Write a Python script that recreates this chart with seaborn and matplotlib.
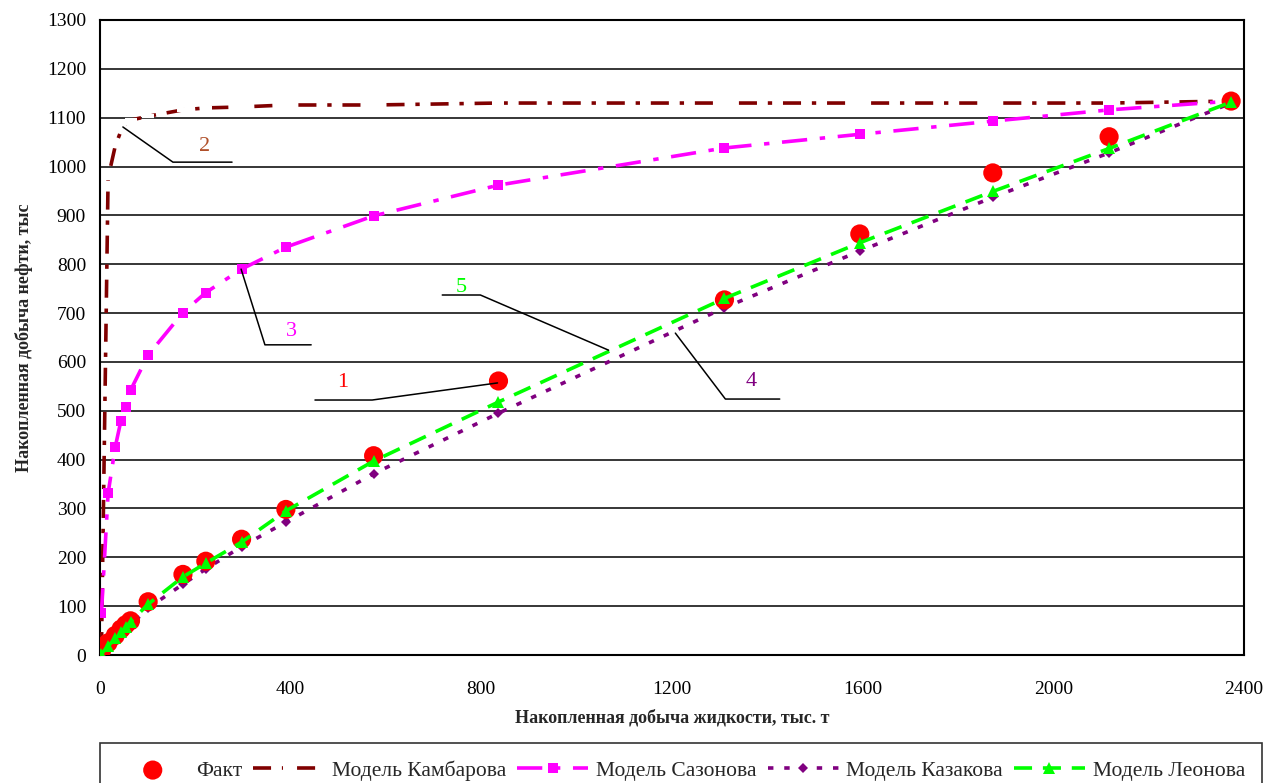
import matplotlib
matplotlib.use("Agg")
import matplotlib.pyplot as plt
import seaborn as sns
import pandas as pd

# ---- data ----
liquid = [3, 17, 32, 44, 54, 64, 101, 174, 222, 297, 390, 574, 836, 1310, 1594, 1873, 2117, 2373]
fact = [8, 25, 40, 53, 62, 70, 109, 165, 192, 237, 298, 408, 561, 727, 862, 987, 1061, 1134]
kambarov = [10, 977, 1042, 1073, 1089, 1095, 1103, 1116, 1120, 1122, 1126, 1126, 1130, 1130, 1130, 1130, 1130, 1134]
sazonov = [85, 331, 426, 480, 508, 542, 614, 701, 742, 790, 835, 899, 962, 1038, 1066, 1093, 1116, 1134]
kazakov = [0, 14, 29, 41, 51, 61, 96, 145, 176, 222, 272, 371, 495, 711, 827, 937, 1028, 1130]
leonov = [2, 18, 34, 47, 57, 68, 104, 160, 188, 231, 295, 397, 518, 730, 844, 949, 1037, 1132]

series_names = ["Факт", "Модель Камбарова", "Модель Сазонова", "Модель Казакова", "Модель Леонова"]
x_ticks = [0, 400, 800, 1200, 1600, 2000, 2400]
y_ticks = list(range(0, 1301, 100))
x_label = "Накопленная добыча жидкости, тыс. т"
y_label = "Накопленная добыча нефти, тыс"

df = pd.DataFrame({"liquid": liquid, "fact": fact, "kambarov": kambarov,
                   "sazonov": sazonov, "kazakov": kazakov, "leonov": leonov})

sns.set_theme(style="white")
plt.rcParams["font.family"] = ["Liberation Serif", "DejaVu Serif"]

fig = plt.figure(figsize=(12.67, 7.83), dpi=100)
ax = fig.add_axes([100 / 1267, 1 - 655 / 783, 1144 / 1267, 635 / 783])

for y in y_ticks:
    ax.axhline(y, color="black", lw=1.1, zorder=0)

sns.lineplot(data=df, x="liquid", y="kambarov", ax=ax, color="#800000", lw=2.6,
             linestyle=(0, (5, 3, 1.2, 3)), marker="_", markersize=9, markeredgewidth=3,
             label=series_names[1], errorbar=None, zorder=3)
sns.lineplot(data=df, x="liquid", y="sazonov", ax=ax, color="#FF00FF", lw=2.6,
             linestyle=(0, (7, 3.5, 1.5, 3.5)), marker="s", markersize=6.5, markeredgewidth=0,
             label=series_names[2], errorbar=None, zorder=3)
sns.lineplot(data=df, x="liquid", y="kazakov", ax=ax, color="#800080", lw=2.6,
             linestyle=(0, (1.5, 3)), marker="D", markersize=5.5, markeredgewidth=0,
             label=series_names[3], errorbar=None, zorder=4)
sns.scatterplot(data=df, x="liquid", y="fact", ax=ax, color="#FF0000", s=190,
                edgecolor="none", label=series_names[0], zorder=5)
sns.lineplot(data=df, x="liquid", y="leonov", ax=ax, color="#00FF00", lw=2.6,
             linestyle=(0, (5, 3)), marker="^", markersize=8, markeredgewidth=0,
             label=series_names[4], errorbar=None, zorder=6)

ax.set_xlim(0, 2400)
ax.set_ylim(0, 1300)
ax.set_xticks(x_ticks)
ax.set_yticks(y_ticks)
ax.tick_params(axis="both", labelsize=14, length=6, width=1.2, color="black",
               direction="out", labelcolor="black", pad=4)
ax.tick_params(axis="x", pad=13)
for s in ax.spines.values():
    s.set_color("black")
    s.set_linewidth(1.5)
ax.grid(False)
ax.set_xlabel(x_label, fontsize=13, fontweight="bold", labelpad=8)
ax.set_ylabel(y_label, fontsize=13, fontweight="bold", labelpad=10)

# callout annotations
callouts = [
    ("1", "#FF0000", (510, 557), [(451, 522), (571, 522), (834, 557)]),
    ("2", "#B0502A", (220, 1042), [(277, 1009), (153, 1009), (48, 1081)]),
    ("3", "#FF00FF", (401, 663), [(443, 635), (346, 635), (296, 790)]),
    ("4", "#800080", (1367, 559), [(1426, 524), (1312, 524), (1207, 659)]),
    ("5", "#00FF00", (758, 753), [(718, 737), (798, 737), (1067, 624)]),
]
for txt, col, tpos, pts in callouts:
    ax.plot([p[0] for p in pts], [p[1] for p in pts], color="black", lw=1.1, zorder=7)
    ax.text(tpos[0], tpos[1], txt, color=col, fontsize=16, ha="center", va="center", zorder=8)

handles, labels = ax.get_legend_handles_labels()
order = [labels.index(n) for n in series_names]
ax.get_legend().remove()
leg = fig.legend([handles[i] for i in order], [labels[i] for i in order],
                 loc="upper left", bbox_to_anchor=(100 / 1267, 1 - 743 / 783, 1162 / 1267, 0.0),
                 mode="expand", ncol=5, fontsize=15.5, frameon=True, fancybox=False,
                 edgecolor="black", handlelength=3.3, handletextpad=0.35, borderpad=0.8,
                 columnspacing=0.5, borderaxespad=0)
leg.get_frame().set_linewidth(1.2)

fig.savefig("out.png", dpi=100)
